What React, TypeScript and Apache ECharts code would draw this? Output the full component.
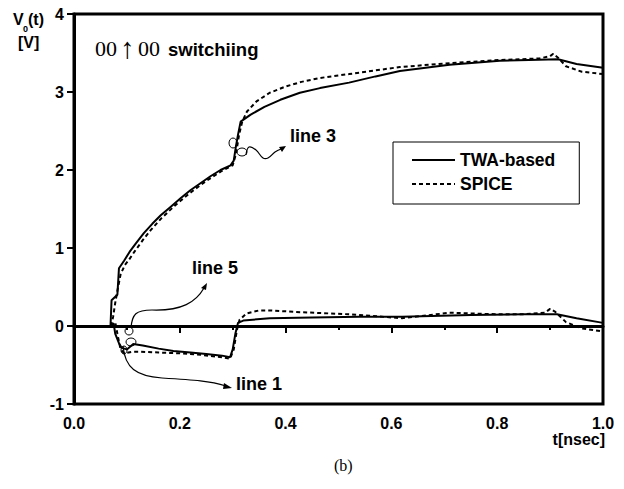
import React, { useEffect, useRef } from "react";
import * as echarts from "echarts";

// TWA-based (solid) – output of line 3 (rising)
const twaLine3: number[][] = [
  [0, 0], [0.069, 0], [0.071, 0.33], [0.082, 0.4], [0.085, 0.74], [0.095, 0.84], [0.105, 0.95],
  [0.117, 1.06], [0.132, 1.19], [0.148, 1.31], [0.164, 1.42], [0.183, 1.53], [0.202, 1.64],
  [0.22, 1.74], [0.239, 1.83], [0.258, 1.92], [0.277, 2.0], [0.296, 2.06], [0.302, 2.12],
  [0.306, 2.3], [0.31, 2.45], [0.315, 2.62], [0.334, 2.71], [0.36, 2.81], [0.39, 2.9],
  [0.427, 2.99], [0.465, 3.05], [0.52, 3.12], [0.57, 3.2], [0.616, 3.27], [0.71, 3.35],
  [0.805, 3.4], [0.86, 3.41], [0.915, 3.42], [0.95, 3.36], [1.0, 3.31],
];
// TWA-based (solid) – output of lines 1/5 (low)
const twaLine1: number[][] = [
  [0.069, 0], [0.075, 0.03], [0.078, -0.1], [0.085, -0.22], [0.09, -0.28], [0.1, -0.3],
  [0.112, -0.23], [0.13, -0.25], [0.16, -0.29], [0.188, -0.32], [0.22, -0.34], [0.25, -0.36],
  [0.28, -0.38], [0.295, -0.4], [0.3, -0.3], [0.305, -0.1], [0.31, 0.04], [0.32, 0.07],
  [0.37, 0.1], [0.45, 0.11], [0.54, 0.12], [0.62, 0.12], [0.75, 0.14], [0.85, 0.15],
  [0.913, 0.15], [0.95, 0.1], [1.0, 0.04],
];
// SPICE (dashed) – line 3
const spiceLine3: number[][] = [
  [0.07, 0], [0.074, 0.12], [0.078, 0.3], [0.082, 0.45], [0.088, 0.66], [0.096, 0.78],
  [0.104, 0.85], [0.115, 0.96], [0.13, 1.1], [0.145, 1.23], [0.165, 1.38], [0.19, 1.54],
  [0.22, 1.71], [0.25, 1.86], [0.28, 1.99], [0.3, 2.06], [0.306, 2.2], [0.312, 2.45],
  [0.318, 2.62], [0.327, 2.75], [0.345, 2.88], [0.37, 2.99], [0.4, 3.07], [0.43, 3.13],
  [0.465, 3.18], [0.52, 3.23], [0.616, 3.32], [0.71, 3.37], [0.805, 3.41], [0.88, 3.43],
  [0.9, 3.46], [0.906, 3.49], [0.915, 3.44], [0.93, 3.33], [0.96, 3.26], [1.0, 3.23],
];
// SPICE (dashed) – lines 1/5
const spiceLine1: number[][] = [
  [0.07, 0], [0.078, 0.05], [0.082, -0.1], [0.088, -0.3], [0.095, -0.35], [0.11, -0.33],
  [0.125, -0.33], [0.16, -0.34], [0.2, -0.35], [0.24, -0.37], [0.28, -0.4], [0.295, -0.42],
  [0.302, -0.3], [0.308, -0.05], [0.313, 0.08], [0.326, 0.16], [0.35, 0.2], [0.37, 0.2],
  [0.42, 0.18], [0.52, 0.15], [0.62, 0.1], [0.71, 0.17], [0.8, 0.15], [0.85, 0.15],
  [0.89, 0.17], [0.9, 0.22], [0.91, 0.18], [0.93, 0.05], [0.96, -0.03], [1.0, -0.07],
];

const legendNames = ["TWA-based", "SPICE"];
const annotationLabels = ["line 3", "line 5", "line 1"];

const SANS = "Liberation Sans, Arial, Helvetica, sans-serif";
const SERIF = "Liberation Serif, DejaVu Serif, Times New Roman, serif";

export default function App() {
  const ref = useRef<HTMLDivElement>(null);
  useEffect(() => {
    if (!ref.current) return;
    const chart = echarts.init(ref.current, null, { renderer: "svg" });
    const solid = { color: "#000", width: 2, type: "solid" as const };
    const dashed = { color: "#000", width: 2, type: [4, 3] as any };
    const boldText = { fontFamily: SANS, fontWeight: "bold" as const, fill: "#000" };
    const serifText = { fontFamily: SERIF, fontSize: 22, fill: "#000" };
    chart.setOption({
      animation: false,
      backgroundColor: "#fff",
      grid: {
        left: 74, top: 14, right: 21, bottom: 85,
        show: true, borderColor: "#000", borderWidth: 3, backgroundColor: "transparent",
      },
      legend: {
        data: legendNames,
        orient: "vertical",
        left: 393,
        top: 142,
        padding: [9, 24, 11, 18],
        itemWidth: 43,
        itemHeight: 12,
        itemGap: 6,
        borderColor: "#000",
        borderWidth: 1,
        itemStyle: { opacity: 0, borderWidth: 0 },
        textStyle: { fontFamily: SANS, fontWeight: "bold", fontSize: 17.5, color: "#000", lineHeight: 17 },
      },
      xAxis: {
        type: "value", min: 0, max: 1, interval: 0.2,
        axisLine: { show: true, lineStyle: { color: "#000", width: 3 } },
        axisTick: { show: true, length: 7, lineStyle: { color: "#000", width: 2 } },
        minorTick: { show: true, splitNumber: 2, length: 4, lineStyle: { color: "#000", width: 2 } },
        splitLine: { show: false },
        axisLabel: {
          margin: 11, fontFamily: SANS, fontWeight: "bold", fontSize: 16, color: "#000",
          formatter: (v: number) => v.toFixed(1),
        },
      },
      yAxis: {
        type: "value", min: -1, max: 4, interval: 1,
        axisLine: { show: true, lineStyle: { color: "#000", width: 3 } },
        axisTick: { show: true, length: 7, lineStyle: { color: "#000", width: 2 } },
        splitLine: { show: false },
        axisLabel: { margin: 10, fontFamily: SANS, fontWeight: "bold", fontSize: 16, color: "#000" },
      },
      series: [
        { name: "TWA-based", type: "line", data: twaLine3, symbol: "none", lineStyle: solid, itemStyle: { color: "#000" } },
        { name: "TWA-based", type: "line", data: twaLine1, symbol: "none", lineStyle: solid, itemStyle: { color: "#000" } },
        { name: "SPICE", type: "line", data: spiceLine3, symbol: "none", lineStyle: dashed, itemStyle: { color: "#000" } },
        { name: "SPICE", type: "line", data: spiceLine1, symbol: "none", lineStyle: dashed, itemStyle: { color: "#000" } },
      ],
      graphic: [
        // Y axis label V_0(t) [V]
        { type: "text", left: 13, top: 11, style: { ...boldText, text: "V", fontSize: 16 } },
        { type: "text", left: 23, top: 24, style: { ...boldText, text: "0", fontSize: 9 } },
        { type: "text", left: 28, top: 11, style: { ...boldText, text: "(t)", fontSize: 16 } },
        { type: "text", left: 18, top: 34, style: { ...boldText, text: "[V]", fontSize: 16 } },
        // title
        { type: "text", left: 95, top: 37, style: { ...serifText, text: "00" } },
        { type: "text", left: 120, top: 33, style: { ...serifText, text: "↑", fontSize: 29 } },
        { type: "text", left: 138, top: 37, style: { ...serifText, text: "00" } },
        { type: "text", left: 168, top: 40, style: { ...boldText, text: "switchiing", fontSize: 18.5 } },
        // x axis name and caption
        { type: "text", right: 19, top: 431, style: { ...boldText, text: "t[nsec]", fontSize: 16 } },
        { type: "text", left: 334, top: 457, style: { text: "(b)", fontFamily: SERIF, fontSize: 16, fill: "#000" } },
        // annotation labels
        { type: "text", left: 290, top: 127, style: { ...boldText, text: annotationLabels[0], fontSize: 18 } },
        { type: "text", left: 192, top: 259, style: { ...boldText, text: annotationLabels[1], fontSize: 18 } },
        { type: "text", left: 236, top: 375, style: { ...boldText, text: annotationLabels[2], fontSize: 18 } },
        // loops marking lines
        { type: "ellipse", shape: { cx: 233, cy: 143, rx: 4, ry: 5 }, style: { fill: "none", stroke: "#000", lineWidth: 1 } },
        { type: "ellipse", shape: { cx: 242, cy: 152, rx: 5, ry: 4 }, style: { fill: "none", stroke: "#000", lineWidth: 1 } },
        { type: "ellipse", shape: { cx: 129, cy: 331, rx: 4, ry: 4 }, style: { fill: "none", stroke: "#000", lineWidth: 1 } },
        { type: "ellipse", shape: { cx: 131, cy: 342, rx: 5, ry: 4 }, style: { fill: "none", stroke: "#000", lineWidth: 1 } },
        { type: "ellipse", shape: { cx: 124, cy: 350, rx: 3, ry: 4 }, style: { fill: "none", stroke: "#000", lineWidth: 1 } },
        // line 3 wavy arrow
        {
          type: "polyline",
          shape: { points: [[246, 155], [249, 147], [256, 150], [263, 158], [268, 158], [275, 152], [281, 149]], smooth: 0.4 },
          style: { fill: "none", stroke: "#000", lineWidth: 1.2 },
        },
        { type: "polygon", shape: { points: [[286, 146], [279, 147], [282, 152]] }, style: { fill: "#000" } },
        // line 5 arrow
        {
          type: "bezierCurve",
          shape: { x1: 131, y1: 328, cpx1: 132, cpy1: 314, cpx2: 136, cpy2: 310, x2: 152, y2: 310 },
          style: { fill: "none", stroke: "#000", lineWidth: 1.2 },
        },
        {
          type: "bezierCurve",
          shape: { x1: 152, y1: 310, cpx1: 182, cpy1: 311, cpx2: 196, cpy2: 302, x2: 204, y2: 288 },
          style: { fill: "none", stroke: "#000", lineWidth: 1.2 },
        },
        { type: "polygon", shape: { points: [[207, 283], [201, 288], [206, 290]] }, style: { fill: "#000" } },
        // line 1 arrow
        {
          type: "bezierCurve",
          shape: { x1: 123, y1: 346, cpx1: 125, cpy1: 368, cpx2: 136, cpy2: 376, x2: 162, y2: 378 },
          style: { fill: "none", stroke: "#000", lineWidth: 1.2 },
        },
        {
          type: "bezierCurve",
          shape: { x1: 162, y1: 378, cpx1: 195, cpy1: 380, cpx2: 210, cpy2: 381, x2: 226, y2: 386 },
          style: { fill: "none", stroke: "#000", lineWidth: 1.2 },
        },
        { type: "polygon", shape: { points: [[232, 388], [224, 383], [223, 389]] }, style: { fill: "#000" } },
      ],
    });
    return () => chart.dispose();
  }, []);
  return <div ref={ref} style={{ position: "fixed", left: 0, top: 0, width: 624, height: 489 }} />;
}
